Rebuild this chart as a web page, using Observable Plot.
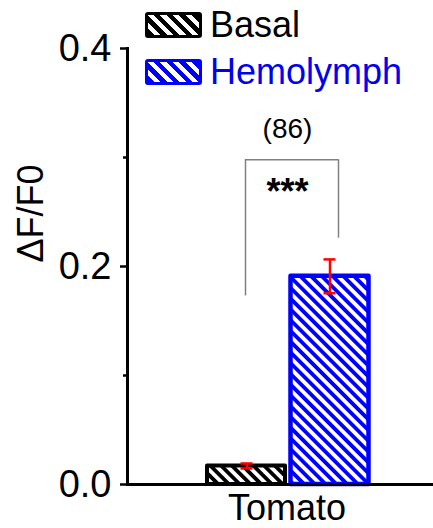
<!DOCTYPE html>
<html><head><meta charset="utf-8">
<script src="https://cdn.jsdelivr.net/npm/d3@7"></script>
<script src="https://cdn.jsdelivr.net/npm/@observablehq/plot@0.6"></script>
<style>
body{margin:0;background:#fff;}
#chart{position:relative;width:433px;height:528px;overflow:hidden;font-family:"Liberation Sans",Arial,sans-serif;}
#legend{position:absolute;left:145px;top:12px;}
.row{display:flex;align-items:center;height:26px;margin-bottom:21px;}
.sw{box-sizing:border-box;width:57px;height:26px;border:3px solid;border-radius:3px;}
.lab{font-size:36px;line-height:26px;margin-left:8px;white-space:nowrap;}
</style></head><body><div id="chart"></div>
<script>
// ---- data ----
const categories = ["Tomato"];
const groups = ["Basal", "Hemolymph"];
const means = [0.017, 0.191];
const sems = [0.0023, 0.0155];
const yTicks = [0, 0.2, 0.4];
const yMinorTicks = [0.1, 0.3];
const yLabel = "ΔF/F0";
const nLabel = "(86)";
const sigLabel = "***";
const nLabelY = 0.326;
const sigLabelY = 0.268;
const bracketTop = 0.298;
const bracketLegEnds = [0.173, 0.226];

// ---- styles ----
const strokeColors = {Basal: "#000000", Hemolymph: "#0000ff"};
const textColors = {Basal: "#000000", Hemolymph: "#0000ee"};

const rows = groups.map((g, i) => ({category: categories[0], group: g, mean: means[i], lo: means[i] - sems[i], hi: means[i] + sems[i]}));
const legs = groups.map((g, i) => ({group: g, lo: bracketLegEnds[i], top: bracketTop}));
const bracket = [{from: groups[0], to: groups[1], y: bracketTop}];

const defs = () => {
  const d = d3.create("svg:defs");
  const mk = (id, color) => {
    const p = d.append("pattern").attr("id", id).attr("patternUnits", "userSpaceOnUse")
      .attr("width", 7.6).attr("height", 7.6).attr("patternTransform", "rotate(-45)");
    p.append("rect").attr("width", 7.6).attr("height", 7.6).attr("fill", "#fff");
    p.append("rect").attr("width", 3.8).attr("height", 7.6).attr("fill", color);
  };
  mk("hatch-Basal", strokeColors.Basal);
  mk("hatch-Hemolymph", strokeColors.Hemolymph);
  return d.node();
};

const chart = Plot.plot({
  width: 433,
  height: 528,
  marginLeft: 127,
  marginRight: 0,
  marginTop: 48,
  marginBottom: 44,
  style: {fontFamily: '"Liberation Sans", Arial, sans-serif', fontSize: "36px", background: "white", color: "black"},
  x: {domain: groups, range: [205, 371], padding: 0, axis: null},
  y: {domain: [0, 0.4]},
  marks: [
    defs,
    Plot.barY(rows.filter(d => d.group === "Basal"), {x: "group", y: "mean", fill: "url(#hatch-Basal)", stroke: strokeColors.Basal, strokeWidth: 4, strokeLinejoin: "round", insetLeft: 2, insetRight: 3}),
    Plot.barY(rows.filter(d => d.group === "Hemolymph"), {x: "group", y: "mean", fill: "url(#hatch-Hemolymph)", stroke: strokeColors.Hemolymph, strokeWidth: 4.5, strokeLinejoin: "round", insetLeft: 2.5, insetRight: 2.5}),
    Plot.ruleY([0], {strokeWidth: 3}),
    Plot.frame({anchor: "left", strokeWidth: 3}),
    Plot.axisY(yTicks, {tickSize: 7, tickPadding: 9, fontSize: 38, strokeWidth: 2.5, label: null, tickFormat: d3.format(".1f")}),
    Plot.axisY(yMinorTicks, {tickSize: 4, strokeWidth: 2.5, label: null, tickFormat: () => ""}),
    Plot.ruleX(rows, {x: "group", y1: "lo", y2: "hi", stroke: "#ff0000", strokeWidth: 2.5}),
    Plot.tickY(rows, {x: "group", y: "hi", stroke: "#ff0000", strokeWidth: 2.5, insetLeft: 35.5, insetRight: 35.5}),
    Plot.tickY(rows, {x: "group", y: "lo", stroke: "#ff0000", strokeWidth: 2.5, insetLeft: 35.5, insetRight: 35.5}),
    Plot.ruleX(legs.slice(0, 1), {x: "group", y1: "lo", y2: "top", dx: -1.5, stroke: "#808080", strokeWidth: 1.5}),
    Plot.ruleX(legs.slice(1), {x: "group", y1: "lo", y2: "top", dx: 8.5, stroke: "#808080", strokeWidth: 1.5}),
    Plot.ruleY(bracket, {x1: "from", x2: "to", y: "y", insetLeft: 40, insetRight: 33, stroke: "#808080", strokeWidth: 1.5}),
    Plot.text([nLabel], {y: () => nLabelY, text: d => d, dx: 7, fontSize: 28}),
    Plot.text([sigLabel], {y: () => sigLabelY, text: d => d, dx: 7, fontSize: 36, fontWeight: "bold"}),
    Plot.text(categories, {frameAnchor: "bottom", lineAnchor: "top", text: d => d, dy: 10, dx: 6.5, fontSize: 36}),
    Plot.text([yLabel], {frameAnchor: "left", rotate: -90, text: d => d, dx: -96, dy: -4, fontSize: 36})
  ]
});

const root = document.getElementById("chart");
root.appendChild(chart);

const legend = document.createElement("div");
legend.id = "legend";
for (const g of groups) {
  const row = document.createElement("div");
  row.className = "row";
  const sw = document.createElement("div");
  sw.className = "sw";
  const c = strokeColors[g];
  sw.style.borderColor = c;
  sw.style.background = `repeating-linear-gradient(45deg, ${c} 0 4.5px, #fff 4.5px 9px)`;
  const lab = document.createElement("div");
  lab.className = "lab";
  lab.textContent = g;
  lab.style.color = textColors[g];
  row.appendChild(sw);
  row.appendChild(lab);
  legend.appendChild(row);
}
root.appendChild(legend);
</script>
</body></html>
